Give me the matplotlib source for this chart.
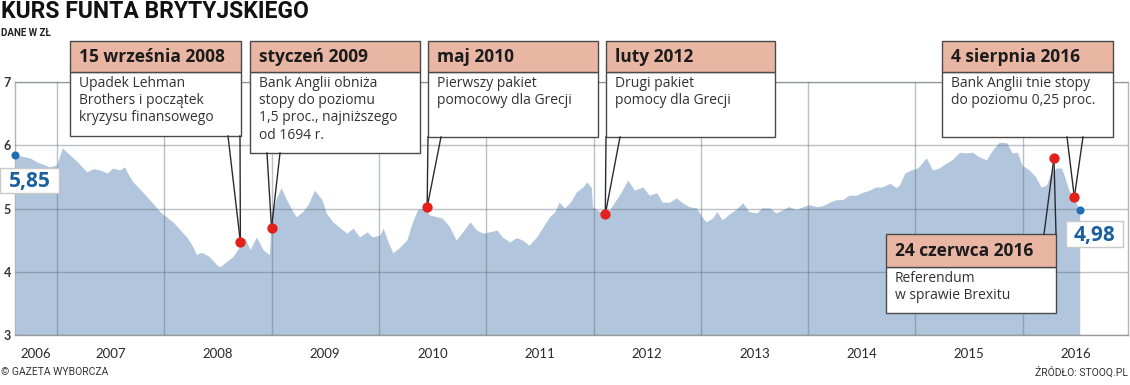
import matplotlib
matplotlib.use('Agg')
import matplotlib.pyplot as plt
from matplotlib.transforms import Affine2D
from matplotlib.patches import Rectangle
from matplotlib.lines import Line2D

# ---------------- data ----------------
years = [2006.61, 2006.75, 2006.81, 2006.93, 2007.00, 2007.05, 2007.12, 2007.19, 2007.28, 2007.34,
         2007.40, 2007.47, 2007.52, 2007.59, 2007.63, 2007.66, 2007.71, 2007.80, 2007.89, 2007.96,
         2008.02, 2008.08, 2008.15, 2008.21, 2008.27, 2008.30, 2008.33, 2008.36, 2008.42, 2008.49,
         2008.52, 2008.58, 2008.64, 2008.70, 2008.75, 2008.80, 2008.86, 2008.92, 2008.98, 2009.00,
         2009.05, 2009.09, 2009.14, 2009.19, 2009.23, 2009.29, 2009.34, 2009.40, 2009.47, 2009.51,
         2009.57, 2009.63, 2009.70, 2009.76, 2009.82, 2009.89, 2009.94, 2010.01, 2010.04, 2010.08,
         2010.13, 2010.19, 2010.26, 2010.31, 2010.36, 2010.43, 2010.47, 2010.54, 2010.59, 2010.66,
         2010.72, 2010.78, 2010.85, 2010.91, 2010.97, 2011.03, 2011.10, 2011.15, 2011.22, 2011.28,
         2011.34, 2011.40, 2011.47, 2011.53, 2011.59, 2011.64, 2011.68, 2011.73, 2011.78, 2011.84,
         2011.90, 2011.94, 2011.98, 2011.99, 2012.06, 2012.12, 2012.18, 2012.24, 2012.32, 2012.38,
         2012.46, 2012.52, 2012.59, 2012.64, 2012.71, 2012.77, 2012.83, 2012.89, 2012.96, 2013.01,
         2013.05, 2013.11, 2013.15, 2013.20, 2013.27, 2013.33, 2013.39, 2013.45, 2013.52, 2013.57,
         2013.64, 2013.70, 2013.76, 2013.82, 2013.89, 2013.95, 2014.01, 2014.08, 2014.13, 2014.20,
         2014.26, 2014.32, 2014.38, 2014.45, 2014.50, 2014.57, 2014.63, 2014.69, 2014.76, 2014.82,
         2014.85, 2014.90, 2014.96, 2015.02, 2015.10, 2015.16, 2015.22, 2015.29, 2015.34, 2015.41,
         2015.47, 2015.53, 2015.59, 2015.66, 2015.72, 2015.78, 2015.85, 2015.90, 2015.95, 2015.99,
         2016.06, 2016.12, 2016.17, 2016.22, 2016.26, 2016.31, 2016.36, 2016.39, 2016.43, 2016.48,
         2016.53]
rate = [5.85, 5.80, 5.74, 5.66, 5.69, 5.96, 5.85, 5.74, 5.58, 5.63,
        5.61, 5.56, 5.64, 5.61, 5.66, 5.56, 5.42, 5.26, 5.09, 4.95,
        4.87, 4.79, 4.66, 4.55, 4.39, 4.27, 4.30, 4.30, 4.24, 4.11,
        4.08, 4.16, 4.24, 4.39, 4.54, 4.35, 4.55, 4.35, 4.27, 4.93,
        5.18, 5.33, 5.14, 4.98, 4.87, 4.95, 5.06, 5.29, 5.14, 4.93,
        4.79, 4.71, 4.61, 4.69, 4.55, 4.63, 4.55, 4.58, 4.69, 4.50,
        4.30, 4.38, 4.50, 4.77, 4.98, 5.01, 4.90, 4.87, 4.85, 4.71,
        4.50, 4.63, 4.79, 4.66, 4.61, 4.63, 4.66, 4.55, 4.47, 4.54,
        4.50, 4.42, 4.55, 4.71, 4.87, 4.95, 5.10, 5.01, 5.09, 5.26,
        5.34, 5.42, 5.33, 5.03, 4.95, 4.90, 5.06, 5.21, 5.45, 5.29,
        5.34, 5.21, 5.25, 5.10, 5.10, 5.17, 5.09, 5.03, 5.01, 4.87,
        4.79, 4.85, 4.95, 4.82, 4.92, 4.99, 5.09, 4.95, 4.93, 5.01,
        5.01, 4.93, 4.98, 5.03, 4.98, 5.03, 5.06, 5.03, 5.04, 5.10,
        5.14, 5.14, 5.21, 5.21, 5.25, 5.29, 5.34, 5.34, 5.40, 5.33,
        5.37, 5.56, 5.61, 5.64, 5.80, 5.61, 5.64, 5.72, 5.77, 5.89,
        5.88, 5.89, 5.82, 5.77, 5.93, 6.05, 6.04, 5.88, 5.89, 5.69,
        5.61, 5.50, 5.34, 5.37, 5.56, 5.64, 5.64, 5.50, 5.29, 5.14,
        4.98]

event_x = [2008.71, 2009.00, 2010.45, 2012.11, 2016.29, 2016.48]
event_y = [4.47, 4.69, 5.02, 4.91, 5.80, 5.18]
event_title = ["15 września 2008", "styczeń 2009", "maj 2010", "luty 2012",
               "24 czerwca 2016", "4 sierpnia 2016"]
event_text = ["Upadek Lehman\nBrothers i początek\nkryzysu finansowego",
              "Bank Anglii obniża\nstopy do poziomu\n1,5 proc., najniższego\nod 1694 r.",
              "Pierwszy pakiet\npomocowy dla Grecji",
              "Drugi pakiet\npomocy dla Grecji",
              "Referendum\nw sprawie Brexitu",
              "Bank Anglii tnie stopy\ndo poziomu 0,25 proc."]

first_label = "5,85"
last_label = "4,98"
year_labels = ["2006", "2007", "2008", "2009", "2010", "2011", "2012", "2013", "2014", "2015", "2016"]
y_ticks = [3, 4, 5, 6, 7]

# ---------------- layout ----------------
W, H = 1130, 385
FONT = ['Lato', 'DejaVu Sans']
BOXFONT = ['Open Sans', 'DejaVu Sans']
NARROW = ['Liberation Sans Narrow', 'Roboto', 'DejaVu Sans']
plt.rcParams['font.family'] = FONT

fig = plt.figure(figsize=(W / 100, H / 100), dpi=100)
ax = fig.add_axes([15 / W, 50 / H, (1128 - 15) / W, (335 - 82) / H])
px = Affine2D().scale(1, -1).translate(0, H)  # pixel coords from top-left

xmin, xmax = 2006.61, 2016.98
ax.set_xlim(xmin, xmax)
ax.set_ylim(3, 7)

ax.fill_between(years, 3, rate, color='#b1c6dc', lw=0, zorder=1)

ax.set_xticks(range(2007, 2017))
ax.set_xticklabels([])
label_pos = []
for lab in year_labels:
    y0 = int(lab)
    label_pos.append((max(y0, xmin) + min(y0 + 1, xmax)) / 2)
ax.set_xticks(label_pos, minor=True)
ax.set_xticklabels(year_labels, minor=True, fontsize=9.5, color='#2a2a2a')
ax.tick_params(axis='x', which='both', length=0, pad=9)
ax.set_yticks(y_ticks)
ax.set_yticklabels([str(v) for v in y_ticks], fontsize=9, color='#333333', fontweight='bold')
ax.tick_params(axis='y', length=0, pad=3)
ax.grid(True, which='major', color='#5f6a78', alpha=0.42, lw=1)
ax.set_axisbelow(False)
for s in ax.spines.values():
    s.set_color('#b5b5b5')
    s.set_linewidth(1)
ax.spines['bottom'].set_color('#9a9a9a')

# ---------------- annotation boxes ----------------
HEAD = '#e9b6a3'
EDGE = '#4a4a4a'
# box: (left, right, top, header_bottom, bottom), pointer base xs, pointer base y
boxes = [
    (70, 241, 41, 72, 136, (228, 240), 136),
    (250, 420, 41, 72, 153, (267, 280), 153),
    (428, 598, 41, 72, 137, (428, 441), 137),
    (606, 775, 41, 72, 137, (606, 620), 137),
    (886, 1056, 234, 267, 313, (1044, 1056), 234),
    (942, 1113, 41, 72, 137, (1067, 1083), 137),
]
for i, (l, r, t, hb, b, pb, py) in enumerate(boxes):
    ax.add_patch(Rectangle((l, H - b), r - l, b - hb, transform=Affine2D(),
                           facecolor='white', edgecolor=EDGE, lw=1, zorder=5, clip_on=False))
    ax.add_patch(Rectangle((l, H - hb), r - l, hb - t, transform=Affine2D(),
                           facecolor=HEAD, edgecolor=EDGE, lw=1, zorder=5, clip_on=False))
    ax.text(l + 9, (t + hb) / 2 + 1, event_title[i], transform=px, fontsize=12.5,
            fontweight='bold', color='#1c1c1c', va='center', ha='left', zorder=6,
            family=BOXFONT)
    ax.text(l + 9, hb + 4, event_text[i], transform=px, fontsize=10,
            color='#333333', va='top', ha='left', linespacing=1.2, zorder=6,
            family=BOXFONT)
    # pointer wedge
    dx, dy = ax.transData.transform((event_x[i], event_y[i]))
    tip = (dx, H - dy)
    for bx in pb:
        ax.add_line(Line2D([bx, tip[0]], [H - py, H - tip[1]], transform=Affine2D(),
                           color='#2b2b2b', lw=1, zorder=6, clip_on=False))

ax.scatter(event_x, event_y, s=55, color='#e3201c', zorder=8, clip_on=False, lw=0)
ax.scatter([years[0], years[-1]], [rate[0], rate[-1]], s=34, color='#1f6db3',
           zorder=8, clip_on=False, lw=0)

# value labels
for (l, r, t, b), lab in [((0, 59, 168, 193), first_label), ((1066, 1123, 221, 247), last_label)]:
    ax.add_patch(Rectangle((l, H - b), r - l, b - t, transform=Affine2D(),
                           facecolor='white', edgecolor='#c8c8c8', lw=1, zorder=5, clip_on=False))
    ax.text((l + r) / 2, (t + b) / 2 + 1, lab, transform=px, fontsize=15, fontweight='bold',
            color='#1a5f9e', ha='center', va='center', zorder=6, family=BOXFONT)

# ---------------- titles ----------------
fig.text(1 / W, 1 - 12 / H, "KURS FUNTA BRYTYJSKIEGO", fontsize=16.5, fontweight='bold',
         family=NARROW, color='#111111', ha='left', va='center')
fig.text(1 / W, 1 - 33 / H, "DANE W ZŁ", fontsize=7, color='#222222', ha='left', va='center',
         family=NARROW, fontweight='bold')
fig.text(1 / W, 1 - 372 / H, "© GAZETA WYBORCZA", fontsize=7.5, color='#333333', ha='left',
         va='center', family=NARROW)
fig.text(1128 / W, 1 - 372 / H, "ŹRÓDŁO: STOOQ.PL", fontsize=7.5, color='#333333', ha='right',
         va='center', family=NARROW)

fig.savefig('out.png', dpi=100)
